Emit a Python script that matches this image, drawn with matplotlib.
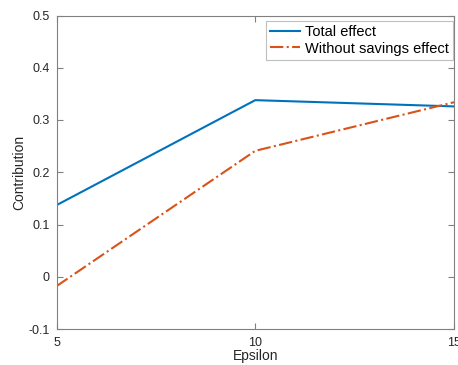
import numpy as np
import matplotlib
matplotlib.use("Agg")
import matplotlib.pyplot as plt

plt.rcParams["font.family"] = ["Liberation Sans", "DejaVu Sans"]

epsilon = [5, 10, 15]
total_effect = [0.137, 0.338, 0.326]
without_savings = [-0.018, 0.241, 0.334]

y_ticks = [-0.1, 0, 0.1, 0.2, 0.3, 0.4, 0.5]
y_tick_labels = ["-0.1", "0", "0.1", "0.2", "0.3", "0.4", "0.5"]

text_color = "#262626"
axis_color = "#808080"

fig = plt.figure(figsize=(4.58, 3.65), dpi=100)
ax = fig.add_axes([56.5 / 458, 1 - 329 / 365, (454 - 56.5) / 458, (329 - 15.5) / 365])

ax.plot(epsilon, total_effect, color="#0072BD", lw=1.5, label="Total effect")
ax.plot(epsilon, without_savings, color="#D95319", lw=1.5, ls="-.",
        label="Without savings effect")

ax.set_xlim(5, 15)
ax.set_ylim(-0.1, 0.5)
ax.set_xticks([5, 10, 15])
ax.set_yticks(y_ticks)
ax.set_yticklabels(y_tick_labels)

ax.tick_params(direction="in", length=4, width=0.8, color=axis_color,
               labelcolor=text_color, labelsize=9, top=True, right=True)
ax.tick_params(axis="x", pad=6)
ax.tick_params(axis="y", pad=5)
for spine in ax.spines.values():
    spine.set_color(axis_color)
    spine.set_linewidth(0.8)

ax.set_xlabel("Epsilon", fontsize=10, color=text_color, labelpad=0)
ax.yaxis.set_label_coords(-(56.5 - 26) / (454 - 56.5), 0.5)
ax.set_ylabel("Contribution", fontsize=10, color=text_color)

leg = ax.legend(loc="upper right", fontsize=10.5, frameon=True, fancybox=False,
                edgecolor="#bfbfbf", framealpha=1, borderpad=0.3,
                handlelength=2.0, handletextpad=0.35, labelspacing=0.15,
                borderaxespad=0, bbox_to_anchor=(453 / 458, 1 - 21 / 365),
                bbox_transform=fig.transFigure)
leg.get_frame().set_linewidth(0.8)
for t in leg.get_texts():
    t.set_color("black")

fig.savefig("out.png", dpi=100)
